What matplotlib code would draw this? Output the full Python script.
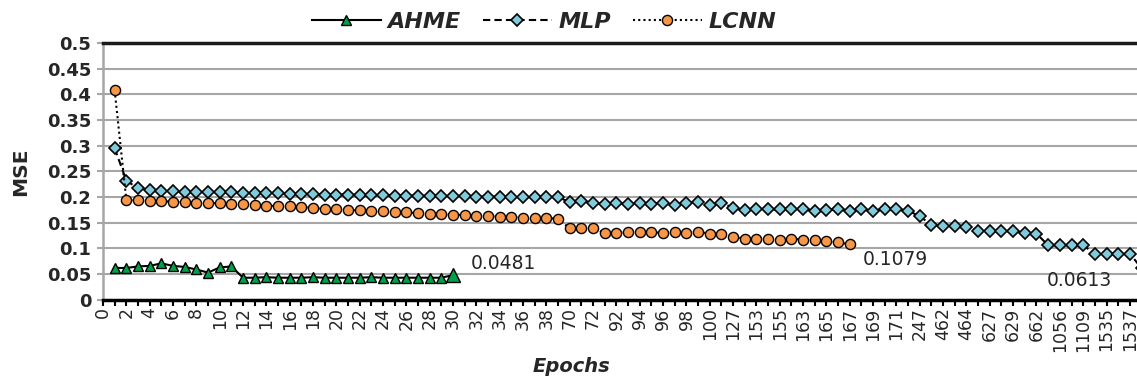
import matplotlib
matplotlib.use("Agg")
import matplotlib.pyplot as plt
import numpy as np

# MSE per epoch (first point sits on category 1)
ahme_mse = [0.062, 0.062, 0.065, 0.066, 0.071, 0.066, 0.064, 0.059, 0.053, 0.063,
            0.065, 0.043, 0.043, 0.044, 0.043, 0.043, 0.043, 0.044, 0.043, 0.043,
            0.043, 0.043, 0.044, 0.043, 0.043, 0.043, 0.043, 0.043, 0.043, 0.0481]

mlp_mse = [0.295, 0.232, 0.217, 0.213, 0.211, 0.211, 0.210, 0.210, 0.209, 0.209,
           0.209, 0.208, 0.208, 0.207, 0.207, 0.206, 0.206, 0.206, 0.205, 0.205,
           0.205, 0.204, 0.204, 0.204, 0.203, 0.203, 0.203, 0.202, 0.202, 0.202,
           0.202, 0.201, 0.201, 0.201, 0.200, 0.200, 0.200, 0.200, 0.200, 0.190,
           0.192, 0.189, 0.186, 0.189, 0.186, 0.188, 0.186, 0.189, 0.184, 0.189,
           0.190, 0.184, 0.189, 0.179, 0.174, 0.177, 0.176, 0.176, 0.177, 0.176,
           0.173, 0.175, 0.176, 0.173, 0.176, 0.173, 0.176, 0.176, 0.173, 0.163,
           0.145, 0.143, 0.144, 0.142, 0.134, 0.134, 0.133, 0.134, 0.130, 0.129,
           0.106, 0.106, 0.106, 0.106, 0.090, 0.090, 0.090, 0.090, 0.0613]

lcnn_mse = [0.408, 0.194, 0.194, 0.193, 0.192, 0.191, 0.190, 0.189, 0.188, 0.188,
            0.187, 0.186, 0.185, 0.183, 0.183, 0.182, 0.181, 0.179, 0.177, 0.176,
            0.175, 0.174, 0.173, 0.172, 0.171, 0.170, 0.169, 0.168, 0.167, 0.166,
            0.165, 0.163, 0.163, 0.162, 0.161, 0.160, 0.160, 0.159, 0.158, 0.139,
            0.139, 0.139, 0.130, 0.130, 0.132, 0.132, 0.132, 0.130, 0.132, 0.130,
            0.132, 0.129, 0.129, 0.123, 0.119, 0.119, 0.119, 0.117, 0.119, 0.117,
            0.116, 0.114, 0.112, 0.1079]

# labels shown on every second category
epoch_labels = ['0', '2', '4', '6', '8', '10', '12', '14', '16', '18', '20', '22',
                '24', '26', '28', '30', '32', '34', '36', '38', '70', '72', '92',
                '94', '96', '98', '100', '127', '153', '155', '163', '165', '167',
                '169', '171', '247', '462', '464', '627', '629', '662', '1056',
                '1109', '1535', '1537']

x_ahme = np.arange(1, len(ahme_mse) + 1)
x_mlp = np.arange(1, len(mlp_mse) + 1)
x_lcnn = np.arange(1, len(lcnn_mse) + 1)

fig = plt.figure(figsize=(11.37, 3.83), dpi=100)
ax = fig.add_axes([103 / 1137, 1 - 299.8 / 383, 1 - 103 / 1137, (299.8 - 43) / 383])

grid_color = '#a6a6a6'
for v in np.arange(0.05, 0.5, 0.05):
    ax.axhline(v, color=grid_color, lw=1.5, zorder=0)

ax.plot(x_ahme, ahme_mse, color='black', lw=1.5, ls='-', marker='^', ms=7,
        mfc='#00a04b', mec='black', mew=1.0, label='AHME', zorder=4)
ax.plot(x_ahme[-1], ahme_mse[-1], ls='none', marker='^', ms=10, mfc='#00a04b',
        mec='black', mew=1.0, zorder=5)
ax.plot(x_mlp, mlp_mse, color='black', lw=1.5, ls=(0, (3.5, 2)), marker='D', ms=6.2,
        mfc='#7fcbdb', mec='black', mew=1.2, label='MLP', zorder=3)
ax.plot(x_lcnn, lcnn_mse, color='black', lw=1.5, ls=(0, (1, 1.5)), marker='o', ms=7.3,
        mfc='#f79646', mec='black', mew=1.0, label='LCNN', zorder=3)

ax.annotate('{:.4f}'.format(ahme_mse[-1]), (x_ahme[-1], ahme_mse[-1]), xytext=(13, 8),
            textcoords='offset points', ha='left', va='center', fontsize=13.5,
            color='#262626')
ax.annotate('{:.4f}'.format(lcnn_mse[-1]), (x_lcnn[-1], lcnn_mse[-1]), xytext=(9, -11),
            textcoords='offset points', ha='left', va='center', fontsize=13.5,
            color='#262626')
ax.annotate('{:.4f}'.format(mlp_mse[-1]), (x_mlp[-1], mlp_mse[-1]), xytext=(-21, -9),
            textcoords='offset points', ha='right', va='center', fontsize=13.5,
            color='#262626', annotation_clip=False)

ax.set_xticks(np.arange(0, 2 * len(epoch_labels), 2))
ax.set_xticklabels(epoch_labels, rotation=90, fontsize=12.5, color='#262626')
ax.set_xticks(np.arange(1, 2 * len(epoch_labels), 2), minor=True)
ax.tick_params(axis='x', which='both', length=4.5, width=1.5, color='black', pad=1)

ax.set_yticks(np.arange(0, 0.51, 0.05))
ax.set_yticklabels(['0', '0.05', '0.1', '0.15', '0.2', '0.25', '0.3', '0.35', '0.4',
                    '0.45', '0.5'], fontsize=13, fontweight='bold', color='#262626')
ax.tick_params(axis='y', length=4.5, width=1.5, color=grid_color, pad=4)

# limits after the ticks, otherwise set_xticks widens the view
ax.set_xlim(0, (1137 - 102) / 11.68)
ax.set_ylim(0, 0.5)

ax.spines['right'].set_visible(False)
ax.spines['left'].set_color(grid_color)
ax.spines['left'].set_linewidth(1.8)
ax.spines['bottom'].set_color('black')
ax.spines['bottom'].set_linewidth(2.5)
ax.spines['top'].set_color('#1a1a1a')
ax.spines['top'].set_linewidth(2.5)

fig.text(571 / 1137, 1 - 367 / 383, 'Epochs', ha='center', va='center', fontsize=14,
         fontweight='bold', fontstyle='italic', color='#262626')
fig.text(21 / 1137, 1 - 172 / 383, 'MSE', ha='center', va='center', rotation=90,
         fontsize=14.5, fontweight='bold', color='#262626')

leg = fig.legend(loc='center', bbox_to_anchor=(544 / 1137, 1 - 22 / 383), ncol=3,
                 frameon=False, handlelength=3.1, handletextpad=0.3, columnspacing=1.0,
                 prop={'size': 16, 'weight': 'bold', 'style': 'italic'}, borderaxespad=0,
                 borderpad=0)
for t in leg.get_texts():
    t.set_color('#262626')

fig.savefig('out.png', dpi=100)
